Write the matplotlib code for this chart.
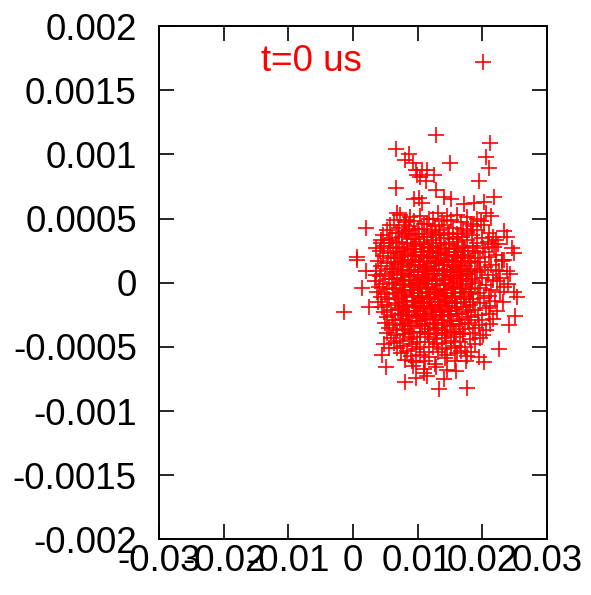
import matplotlib
matplotlib.use("Agg")
import matplotlib.pyplot as plt

plt.rcParams['font.family'] = ['Liberation Sans', 'DejaVu Sans']

series_label = "t=0 us"
x_ticks = [-0.03, -0.02, -0.01, 0, 0.01, 0.02, 0.03]
x_tick_labels = ["-0.03", "-0.02", "-0.01", "0", "0.01", "0.02", "0.03"]
y_ticks = [-0.002, -0.0015, -0.001, -0.0005, 0, 0.0005, 0.001, 0.0015, 0.002]
y_tick_labels = ["-0.002", "-0.0015", "-0.001", "-0.0005", "0", "0.0005", "0.001", "0.0015", "0.002"]

# sparse points around the cloud
outer_x = [0.0066, 0.0080, 0.0087, 0.0093, 0.0097, 0.0099, 0.0104, 0.0107, 0.0113, 0.0066,
           0.0094, 0.0102, 0.0107, 0.0068, 0.0082, 0.0079, 0.0087, 0.0020, 0.0043, 0.0056,
           0.0035, 0.0006, 0.0129, 0.0212, 0.0150, 0.0205, 0.0210, 0.0195, 0.0125, 0.0114,
           0.0128, 0.0218, 0.0202, 0.0187, 0.0172, 0.0151, 0.0141, 0.0213, 0.0205, 0.0233,
           0.0238, 0.0221, 0.0215, 0.0246, 0.0249, 0.0006, 0.0035, 0.0020, 0.0014, -0.0014,
           0.0025, 0.0048, 0.0045, 0.0056, 0.0051, 0.0080, 0.0097, 0.0110, 0.0091, 0.0233,
           0.0238, 0.0228, 0.0249, 0.0253, 0.0251, 0.0241, 0.0226, 0.0195, 0.0174, 0.0202,
           0.0159, 0.0176, 0.0141, 0.0133, 0.0114]
outer_y = [0.00104, 0.00096, 0.00100, 0.00093, 0.00088, 0.00084, 0.00082, 0.00088, 0.00079, 0.00074,
           0.00065, 0.00066, 0.00062, 0.00054, 0.00049, 0.00045, 0.00041, 0.00043, 0.00031, 0.00033,
           0.00027, 0.00020, 0.00115, 0.00109, 0.00093, 0.00098, 0.00089, 0.00079, 0.00084, 0.00088,
           0.00072, 0.00067, 0.00063, 0.00062, 0.00061, 0.00065, 0.00067, 0.00052, 0.00054, 0.00040,
           0.00036, 0.00033, 0.00030, 0.00027, 0.00023, 0.00018, 0.00006, 0.00009, -0.00004, -0.00023,
           -0.00019, -0.00048, -0.00056, -0.00051, -0.00066, -0.00077, -0.00074, -0.00070, -0.00061, 0.00018,
           0.00009, 0.00004, -0.00007, -0.00011, -0.00026, -0.00033, -0.00052, -0.00058, -0.00061, -0.00062,
           -0.00069, -0.00082, -0.00075, -0.00083, -0.00073]

# dense core of the cloud
core_x = [
    0.0072, 0.0088, 0.0103, 0.0117, 0.0131, 0.0146, 0.0161, 0.0177, 0.0192,
    0.0064, 0.0080, 0.0095, 0.0110, 0.0124, 0.0138, 0.0152, 0.0167, 0.0182, 0.0198,
    0.0057, 0.0071, 0.0086, 0.0100, 0.0114, 0.0127, 0.0141, 0.0155, 0.0170, 0.0186, 0.0203,
    0.0052, 0.0066, 0.0080, 0.0093, 0.0107, 0.0120, 0.0133, 0.0147, 0.0161, 0.0176, 0.0192, 0.0210,
    0.0047, 0.0061, 0.0075, 0.0089, 0.0102, 0.0115, 0.0128, 0.0141, 0.0155, 0.0169, 0.0184, 0.0200, 0.0217,
    0.0044, 0.0057, 0.0071, 0.0084, 0.0097, 0.0110, 0.0123, 0.0136, 0.0149, 0.0163, 0.0177, 0.0192, 0.0208, 0.0224,
    0.0048, 0.0062, 0.0076, 0.0090, 0.0103, 0.0116, 0.0129, 0.0142, 0.0156, 0.0170, 0.0185, 0.0201, 0.0218,
    0.0041, 0.0054, 0.0068, 0.0081, 0.0094, 0.0106, 0.0119, 0.0132, 0.0145, 0.0159, 0.0173, 0.0188, 0.0204, 0.0221,
    0.0046, 0.0059, 0.0072, 0.0085, 0.0098, 0.0110, 0.0123, 0.0136, 0.0149, 0.0163, 0.0178, 0.0194, 0.0211, 0.0231,
    0.0039, 0.0052, 0.0065, 0.0078, 0.0091, 0.0103, 0.0115, 0.0127, 0.0140, 0.0153, 0.0167, 0.0181, 0.0196, 0.0213, 0.0230,
    0.0044, 0.0057, 0.0070, 0.0083, 0.0096, 0.0108, 0.0120, 0.0133, 0.0146, 0.0159, 0.0173, 0.0188, 0.0204, 0.0221,
    0.0036, 0.0049, 0.0062, 0.0075, 0.0088, 0.0100, 0.0112, 0.0124, 0.0137, 0.0150, 0.0163, 0.0177, 0.0192, 0.0208, 0.0226, 0.0243,
    0.0042, 0.0055, 0.0068, 0.0081, 0.0094, 0.0106, 0.0118, 0.0130, 0.0143, 0.0156, 0.0170, 0.0184, 0.0199, 0.0216,
    0.0034, 0.0047, 0.0060, 0.0073, 0.0086, 0.0098, 0.0110, 0.0122, 0.0135, 0.0148, 0.0161, 0.0175, 0.0189, 0.0205, 0.0222, 0.0240,
    0.0040, 0.0053, 0.0066, 0.0079, 0.0092, 0.0104, 0.0116, 0.0128, 0.0141, 0.0154, 0.0168, 0.0182, 0.0197, 0.0214, 0.0233,
    0.0037, 0.0050, 0.0063, 0.0076, 0.0089, 0.0101, 0.0113, 0.0125, 0.0138, 0.0151, 0.0165, 0.0179, 0.0194, 0.0210, 0.0228,
    0.0043, 0.0056, 0.0069, 0.0082, 0.0095, 0.0107, 0.0119, 0.0131, 0.0144, 0.0157, 0.0171, 0.0186, 0.0202, 0.0220,
    0.0039, 0.0052, 0.0065, 0.0078, 0.0091, 0.0103, 0.0115, 0.0127, 0.0140, 0.0153, 0.0167, 0.0181, 0.0196, 0.0212, 0.0232,
    0.0045, 0.0058, 0.0071, 0.0084, 0.0097, 0.0109, 0.0121, 0.0134, 0.0147, 0.0160, 0.0174, 0.0189, 0.0205, 0.0223,
    0.0048, 0.0061, 0.0074, 0.0087, 0.0100, 0.0112, 0.0124, 0.0137, 0.0150, 0.0164, 0.0178, 0.0193, 0.0210,
    0.0052, 0.0065, 0.0078, 0.0091, 0.0103, 0.0115, 0.0128, 0.0141, 0.0154, 0.0168, 0.0183, 0.0199, 0.0217,
    0.0049, 0.0062, 0.0075, 0.0088, 0.0100, 0.0112, 0.0125, 0.0138, 0.0151, 0.0165, 0.0180, 0.0195, 0.0212,
    0.0055, 0.0068, 0.0081, 0.0094, 0.0106, 0.0119, 0.0132, 0.0145, 0.0159, 0.0173, 0.0188, 0.0205,
    0.0052, 0.0066, 0.0079, 0.0092, 0.0104, 0.0116, 0.0129, 0.0142, 0.0156, 0.0170, 0.0185, 0.0201,
    0.0059, 0.0073, 0.0086, 0.0099, 0.0112, 0.0125, 0.0138, 0.0152, 0.0166, 0.0181, 0.0197,
    0.0063, 0.0077, 0.0091, 0.0104, 0.0117, 0.0130, 0.0144, 0.0158, 0.0173, 0.0189,
    0.0068, 0.0083, 0.0097, 0.0110, 0.0124, 0.0138, 0.0152, 0.0167, 0.0183,
    0.0074, 0.0089, 0.0104, 0.0118, 0.0132, 0.0146, 0.0161, 0.0177,
    0.0081, 0.0097, 0.0112, 0.0127, 0.0142, 0.0158,
    0.0093, 0.0110, 0.0128, 0.0145,
    0.0083, 0.0096, 0.0109, 0.0122, 0.0135, 0.0148, 0.0161,
    0.0079, 0.0092, 0.0105, 0.0118, 0.0131, 0.0144, 0.0157, 0.0170,
    0.0076, 0.0089, 0.0102, 0.0115, 0.0128, 0.0141, 0.0154, 0.0167,
    0.0074, 0.0087, 0.0100, 0.0113, 0.0126, 0.0139, 0.0152, 0.0165, 0.0178,
    0.0077, 0.0090, 0.0103, 0.0116, 0.0129, 0.0142, 0.0155, 0.0168,
    0.0080, 0.0093, 0.0106, 0.0119, 0.0132, 0.0145, 0.0158, 0.0171,
    0.0083, 0.0096, 0.0109, 0.0122, 0.0135, 0.0148, 0.0161,
    0.0086, 0.0099, 0.0112, 0.0125, 0.0138, 0.0151,
]
core_y = [
    0.00053, 0.00051, 0.00052, 0.00050, 0.00054, 0.00052, 0.00053, 0.00051, 0.00050,
    0.00049, 0.00047, 0.00048, 0.00046, 0.00050, 0.00048, 0.00049, 0.00047, 0.00046, 0.00048,
    0.00045, 0.00043, 0.00044, 0.00042, 0.00046, 0.00044, 0.00045, 0.00043, 0.00042, 0.00044, 0.00045,
    0.00041, 0.00039, 0.00040, 0.00038, 0.00042, 0.00040, 0.00041, 0.00039, 0.00038, 0.00040, 0.00041, 0.00039,
    0.00037, 0.00035, 0.00036, 0.00034, 0.00038, 0.00036, 0.00037, 0.00035, 0.00034, 0.00036, 0.00037, 0.00035, 0.00036,
    0.00033, 0.00031, 0.00032, 0.00030, 0.00034, 0.00032, 0.00033, 0.00031, 0.00030, 0.00032, 0.00033, 0.00031, 0.00032, 0.00030,
    0.00029, 0.00027, 0.00028, 0.00026, 0.00030, 0.00028, 0.00029, 0.00027, 0.00026, 0.00028, 0.00029, 0.00027, 0.00028,
    0.00025, 0.00023, 0.00024, 0.00022, 0.00026, 0.00024, 0.00025, 0.00023, 0.00022, 0.00024, 0.00025, 0.00023, 0.00024, 0.00022,
    0.00021, 0.00019, 0.00020, 0.00018, 0.00022, 0.00020, 0.00021, 0.00019, 0.00018, 0.00020, 0.00021, 0.00019, 0.00020, 0.00018,
    0.00017, 0.00015, 0.00016, 0.00014, 0.00018, 0.00016, 0.00017, 0.00015, 0.00014, 0.00016, 0.00017, 0.00015, 0.00016, 0.00014, 0.00017,
    0.00013, 0.00011, 0.00012, 0.00010, 0.00014, 0.00012, 0.00013, 0.00011, 0.00010, 0.00012, 0.00013, 0.00011, 0.00012, 0.00010,
    0.00009, 0.00007, 0.00008, 0.00006, 0.00010, 0.00008, 0.00009, 0.00007, 0.00006, 0.00008, 0.00009, 0.00007, 0.00008, 0.00006, 0.00009, 0.00007,
    0.00005, 0.00003, 0.00004, 0.00002, 0.00006, 0.00004, 0.00005, 0.00003, 0.00002, 0.00004, 0.00005, 0.00003, 0.00004, 0.00002,
    0.00001, -0.00001, 0.00000, -0.00002, 0.00002, 0.00000, 0.00001, -0.00001, -0.00002, 0.00000, 0.00001, -0.00001, 0.00000, -0.00002, 0.00001, -0.00001,
    -0.00003, -0.00005, -0.00004, -0.00006, -0.00002, -0.00004, -0.00003, -0.00005, -0.00006, -0.00004, -0.00003, -0.00005, -0.00004, -0.00006, -0.00003,
    -0.00007, -0.00009, -0.00008, -0.00010, -0.00006, -0.00008, -0.00007, -0.00009, -0.00010, -0.00008, -0.00007, -0.00009, -0.00008, -0.00010, -0.00007,
    -0.00011, -0.00013, -0.00012, -0.00014, -0.00010, -0.00012, -0.00011, -0.00013, -0.00014, -0.00012, -0.00011, -0.00013, -0.00012, -0.00014,
    -0.00015, -0.00017, -0.00016, -0.00018, -0.00014, -0.00016, -0.00015, -0.00017, -0.00018, -0.00016, -0.00015, -0.00017, -0.00016, -0.00018, -0.00015,
    -0.00019, -0.00021, -0.00020, -0.00022, -0.00018, -0.00020, -0.00019, -0.00021, -0.00022, -0.00020, -0.00019, -0.00021, -0.00020, -0.00022,
    -0.00023, -0.00025, -0.00024, -0.00026, -0.00022, -0.00024, -0.00023, -0.00025, -0.00026, -0.00024, -0.00023, -0.00025, -0.00024,
    -0.00027, -0.00029, -0.00028, -0.00030, -0.00026, -0.00028, -0.00027, -0.00029, -0.00030, -0.00028, -0.00027, -0.00029, -0.00028,
    -0.00031, -0.00033, -0.00032, -0.00034, -0.00030, -0.00032, -0.00031, -0.00033, -0.00034, -0.00032, -0.00031, -0.00033, -0.00032,
    -0.00035, -0.00037, -0.00036, -0.00038, -0.00034, -0.00036, -0.00035, -0.00037, -0.00038, -0.00036, -0.00035, -0.00037,
    -0.00039, -0.00041, -0.00040, -0.00042, -0.00038, -0.00040, -0.00039, -0.00041, -0.00042, -0.00040, -0.00039, -0.00041,
    -0.00043, -0.00045, -0.00044, -0.00046, -0.00042, -0.00044, -0.00043, -0.00045, -0.00046, -0.00044, -0.00043,
    -0.00047, -0.00049, -0.00048, -0.00050, -0.00046, -0.00048, -0.00047, -0.00049, -0.00050, -0.00048,
    -0.00051, -0.00053, -0.00052, -0.00054, -0.00050, -0.00052, -0.00051, -0.00053, -0.00054,
    -0.00055, -0.00057, -0.00056, -0.00058, -0.00054, -0.00056, -0.00055, -0.00057,
    -0.00060, -0.00062, -0.00061, -0.00063, -0.00059, -0.00061,
    -0.00065, -0.00067, -0.00066, -0.00068,
    0.00031, 0.00029, 0.00030, 0.00028, 0.00031, 0.00030, 0.00029,
    0.00023, 0.00021, 0.00022, 0.00020, 0.00023, 0.00022, 0.00021, 0.00022,
    0.00015, 0.00013, 0.00014, 0.00012, 0.00015, 0.00014, 0.00013, 0.00014,
    0.00007, 0.00005, 0.00006, 0.00004, 0.00007, 0.00006, 0.00005, 0.00006, 0.00007,
    -0.00001, -0.00003, -0.00002, -0.00004, -0.00001, -0.00002, -0.00003, -0.00002,
    -0.00009, -0.00011, -0.00010, -0.00012, -0.00009, -0.00010, -0.00011, -0.00010,
    -0.00017, -0.00019, -0.00018, -0.00020, -0.00017, -0.00018, -0.00019,
    -0.00025, -0.00027, -0.00026, -0.00028, -0.00025, -0.00026,
]

# extra points in the densest centre of the cloud
centre_x = [
    0.0070, 0.0083, 0.0096, 0.0109, 0.0122, 0.0135, 0.0148, 0.0162, 0.0176,
    0.0066, 0.0079, 0.0092, 0.0105, 0.0118, 0.0131, 0.0144, 0.0157, 0.0171, 0.0185,
    0.0063, 0.0076, 0.0089, 0.0102, 0.0115, 0.0128, 0.0141, 0.0154, 0.0168, 0.0183,
    0.0061, 0.0074, 0.0087, 0.0100, 0.0113, 0.0126, 0.0139, 0.0152, 0.0166, 0.0181, 0.0196,
    0.0064, 0.0077, 0.0090, 0.0103, 0.0116, 0.0129, 0.0142, 0.0155, 0.0169, 0.0184,
    0.0062, 0.0075, 0.0088, 0.0101, 0.0114, 0.0127, 0.0140, 0.0153, 0.0167, 0.0182,
    0.0066, 0.0079, 0.0092, 0.0105, 0.0118, 0.0131, 0.0144, 0.0157, 0.0171, 0.0186,
    0.0069, 0.0082, 0.0095, 0.0108, 0.0121, 0.0134, 0.0147, 0.0161, 0.0175,
    0.0072, 0.0085, 0.0098, 0.0111, 0.0124, 0.0137, 0.0150, 0.0164, 0.0178,
    0.0077, 0.0090, 0.0103, 0.0116, 0.0129, 0.0142, 0.0156, 0.0170,
]
centre_y = [
    0.00039, 0.00037, 0.00038, 0.00036, 0.00039, 0.00037, 0.00038, 0.00036, 0.00039,
    0.00027, 0.00025, 0.00026, 0.00024, 0.00027, 0.00025, 0.00026, 0.00024, 0.00027, 0.00025,
    0.00019, 0.00017, 0.00018, 0.00016, 0.00019, 0.00017, 0.00018, 0.00016, 0.00019, 0.00017,
    0.00011, 0.00009, 0.00010, 0.00008, 0.00011, 0.00009, 0.00010, 0.00008, 0.00011, 0.00009, 0.00010,
    0.00003, 0.00001, 0.00002, 0.00000, 0.00003, 0.00001, 0.00002, 0.00000, 0.00003, 0.00001,
    -0.00005, -0.00007, -0.00006, -0.00008, -0.00005, -0.00007, -0.00006, -0.00008, -0.00005, -0.00007,
    -0.00013, -0.00015, -0.00014, -0.00016, -0.00013, -0.00015, -0.00014, -0.00016, -0.00013, -0.00015,
    -0.00021, -0.00023, -0.00022, -0.00024, -0.00021, -0.00023, -0.00022, -0.00024, -0.00021,
    -0.00029, -0.00031, -0.00030, -0.00032, -0.00029, -0.00031, -0.00030, -0.00032, -0.00029,
    -0.00037, -0.00039, -0.00038, -0.00040, -0.00037, -0.00039, -0.00038, -0.00040,
]

fig = plt.figure(figsize=(5.91, 5.95), dpi=100)
ax = fig.add_axes([0.269, 0.0933, 0.6566, 0.863])

mk = dict(linestyle='none', marker='+', markersize=11.5, markeredgewidth=1.2, color='#ff0000')
ax.plot(core_x, core_y, **mk)
ax.plot(centre_x, centre_y, **mk)
ax.plot(outer_x, outer_y, **mk)

ax.set_xlim(-0.03, 0.03)
ax.set_ylim(-0.002, 0.002)
ax.set_xticks(x_ticks)
ax.set_xticklabels(x_tick_labels)
ax.set_yticks(y_ticks)
ax.set_yticklabels(y_tick_labels)
ax.tick_params(direction='in', length=11, width=1.2, labelsize=26.5,
               top=True, right=True, colors='black')
ax.tick_params(axis='x', pad=3)
ax.tick_params(axis='y', pad=16)
for s in ax.spines.values():
    s.set_linewidth(1.4)

# key, gnuplot style
ax.text(0.523, 0.93, series_label, transform=ax.transAxes, ha='right', va='center',
        fontsize=26.5, color='#ff0000')
ax.plot([0.835], [0.93], transform=ax.transAxes, **mk)

fig.savefig("out.png", dpi=100)
